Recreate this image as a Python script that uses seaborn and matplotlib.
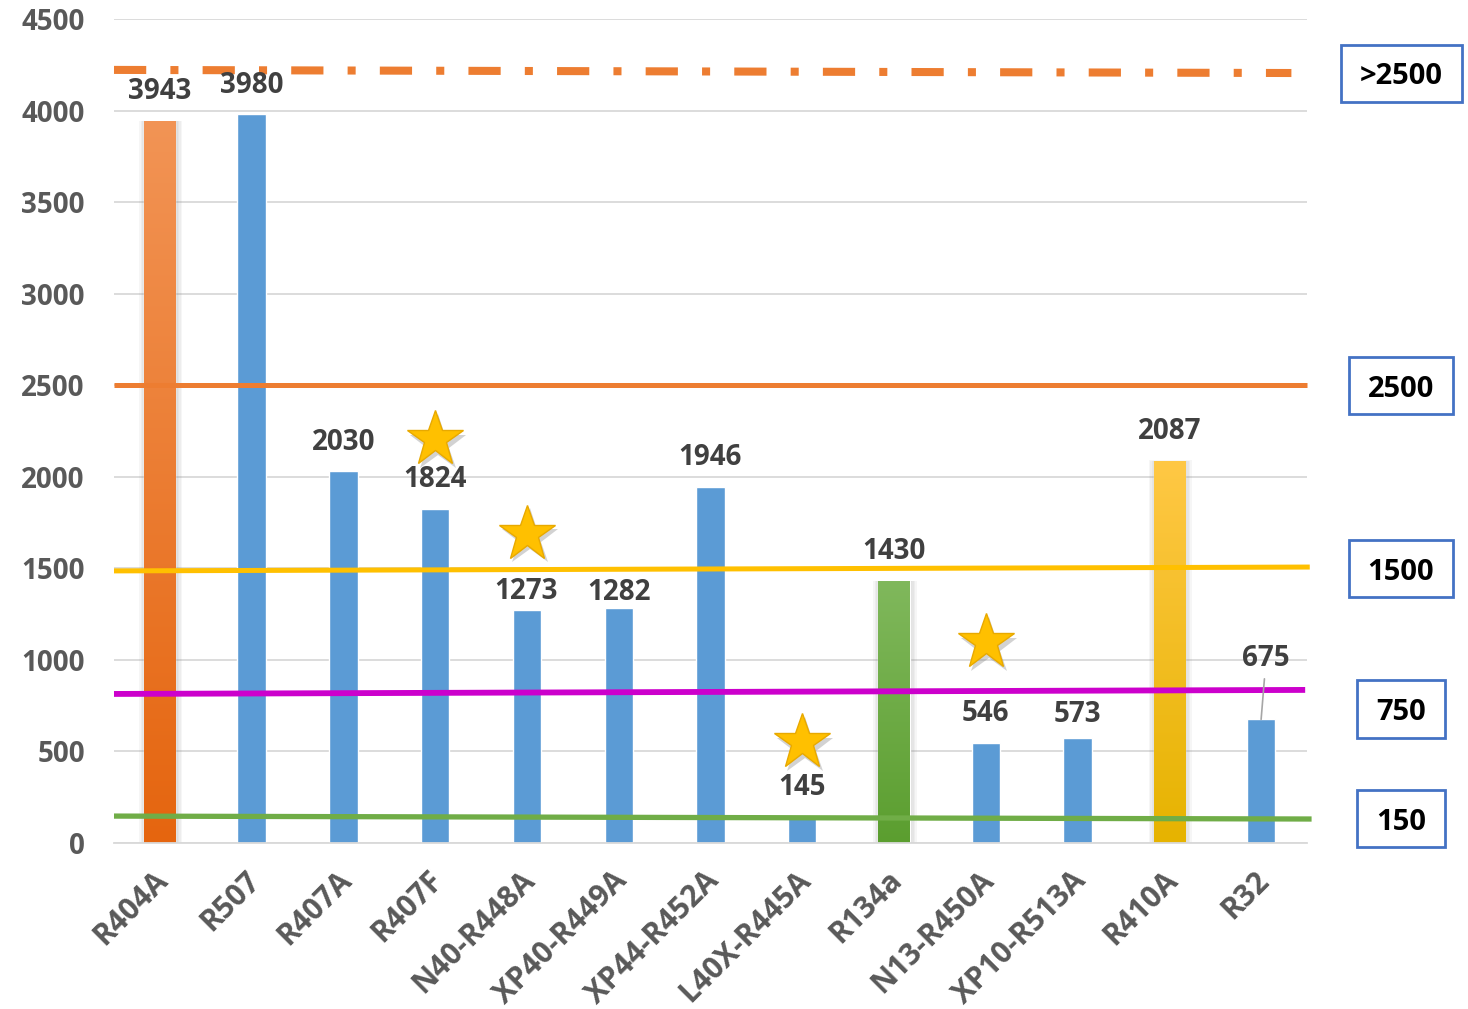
import numpy as np
import pandas as pd
import matplotlib.pyplot as plt
import seaborn as sns
from matplotlib.patches import Rectangle
from matplotlib.colors import LinearSegmentedColormap
from matplotlib.transforms import ScaledTranslation

refrigerants = ["R404A", "R507", "R407A", "R407F", "N40-R448A", "XP40-R449A",
                "XP44-R452A", "L40X-R445A", "R134a", "N13-R450A", "XP10-R513A",
                "R410A", "R32"]
gwp = [3943, 3980, 2030, 1824, 1273, 1282, 1946, 145, 1430, 546, 573, 2087, 675]

# stars next to the favoured replacements
star_names = ["R407F", "N40-R448A", "L40X-R445A", "N13-R450A"]
star_levels = [2206, 1688, 552, 1098]

# threshold lines (value at left end, value at right end)
limit_labels = [">2500", "2500", "1500", "750", "150"]
limit_left = [4222, 2500, 1486, 814, 147]
limit_right = [4205, 2500, 1507, 836, 131]

W, H = 1468, 1009
blue = "#5B9BD5"
# (bottom colour, top colour)
gradients = {"R404A": ("#E5650F", "#F29455"),
             "R134a": ("#5B9E2F", "#80B85C"),
             "R410A": ("#E6B300", "#FFC845")}

sns.set_style("white")
plt.rcParams['font.family'] = ['Open Sans', 'DejaVu Sans']

fig = plt.figure(figsize=(W / 100, H / 100), dpi=100)
ax = fig.add_axes([114 / W, 1 - 843 / H, (1307 - 114) / W, (843 - 19) / H])

df = pd.DataFrame({"name": refrigerants, "gwp": gwp})
palette = {n: blue for n in refrigerants}
sns.barplot(data=df, x="name", y="gwp", hue="name", palette=palette,
            legend=False, width=0.31, saturation=1, ax=ax, zorder=2)

# gradient bars with a soft shadow
for patch, name in zip(ax.patches, refrigerants):
    if name not in gradients:
        continue
    w = 0.34
    x0 = patch.get_x() + patch.get_width() / 2 - w / 2
    patch.set_x(x0)
    patch.set_width(w)
    h = patch.get_height()
    for k in range(1, 5):
        dx = k * 1.5 / 91.8
        ax.add_patch(Rectangle((x0 - dx + 0.01, 0), w + 2 * dx, h + dx * 30,
                               color="#808080", alpha=0.07, lw=0, zorder=1.5))
    cmap = LinearSegmentedColormap.from_list(name, list(gradients[name]))
    grad = np.linspace(0, 1, 256).reshape(-1, 1)
    im = ax.imshow(grad, extent=[x0, x0 + w, 0, h], origin="lower", cmap=cmap,
                   aspect="auto", zorder=2.1)
    im.set_clip_path(patch)

# value labels (offset in points above bar top)
label_dy = [21, 21, 21, 21, 13.5, 11.5, 21, 21, 21, 21, 17, 21, 44]
label_dx = [0, 0, 0, 0, -1, 0, 0, 0, 0, 0, 0, 0, 3.6]
for i, (v, dy, dx) in enumerate(zip(gwp, label_dy, label_dx)):
    props = None
    if i == len(gwp) - 1:
        props = dict(arrowstyle="-", color="#A6A6A6", lw=1.2, shrinkA=2, shrinkB=0)
    ax.annotate(str(v), xy=(i, v), xytext=(dx, dy), textcoords="offset points",
                ha="center", va="center", fontsize=20, fontweight="bold",
                color="#404040", arrowprops=props, zorder=6)

# threshold lines
line_styles = [dict(color="#ED7D31", lw=5.8, dashes=(4, 3, 1, 3)),
               dict(color="#ED7D31", lw=3.6),
               dict(color="#FFC000", lw=3.6),
               dict(color="#CC00CC", lw=4.2),
               dict(color="#70AD47", lw=3.8)]
x_end = [12.33, 12.5, 12.53, 12.48, 12.55]
for l, r, xe, st in zip(limit_left, limit_right, x_end, line_styles):
    ax.plot([-0.5, xe], [l, r], clip_on=False, solid_capstyle="butt",
            dash_capstyle="butt", zorder=4, **st)

# stars
sx = [refrigerants.index(n) for n in star_names]
ax.plot(np.array(sx) + 0.03, np.array(star_levels) - 25, linestyle="none", marker="*",
        ms=43, color="#7F7F7F", alpha=0.35, mew=0, zorder=4.5)
ax.plot(sx, star_levels, linestyle="none", marker="*", ms=42,
        color="#FFC000", mec="#E8A900", mew=1, zorder=5)

ax.set_xlim(-0.5, 12.5)
ax.set_ylim(0, 4500)
ax.set_yticks(np.arange(0, 4501, 500))
ax.yaxis.grid(True, color="#D9D9D9", lw=1.3)
ax.set_axisbelow(True)
for s in ["top", "left", "right"]:
    ax.spines[s].set_visible(False)
ax.spines["bottom"].set_color("#D9D9D9")
ax.spines["bottom"].set_linewidth(1.3)
ax.set_xlabel("")
ax.set_ylabel("")
ax.tick_params(axis="y", length=0, pad=21, labelsize=20, labelcolor="#595959")
ax.tick_params(axis="x", length=0, pad=16, labelsize=21.5, labelcolor="#595959")
for t in ax.get_yticklabels():
    t.set_fontweight("bold")
ax.set_xticks(range(len(refrigerants)))
ax.set_xticklabels(refrigerants, rotation=45, ha="right", rotation_mode="anchor",
                   fontweight="bold")
shift = ScaledTranslation(-5 / 72, 0, fig.dpi_scale_trans)
for t in ax.get_xticklabels():
    t.set_transform(t.get_transform() + shift)

# boxes on the right (centre x, centre y, width, height in pixels)
boxes = [(1401.5, 73.5, 121, 57), (1401, 385.5, 104, 57), (1401, 568.5, 104, 57),
         (1401, 709, 88, 58), (1401, 818.5, 88, 57)]
for lab, (cx, cy, bw, bh) in zip(limit_labels, boxes):
    fig.add_artist(Rectangle(((cx - bw / 2) / W, 1 - (cy + bh / 2) / H), bw / W, bh / H,
                             transform=fig.transFigure, fill=False,
                             ec="#4472C4", lw=2))
    fig.text(cx / W, 1 - cy / H, lab, ha="center", va="center_baseline",
             fontsize=21, fontweight="bold", color="black")

fig.savefig("out.png", dpi=100)
